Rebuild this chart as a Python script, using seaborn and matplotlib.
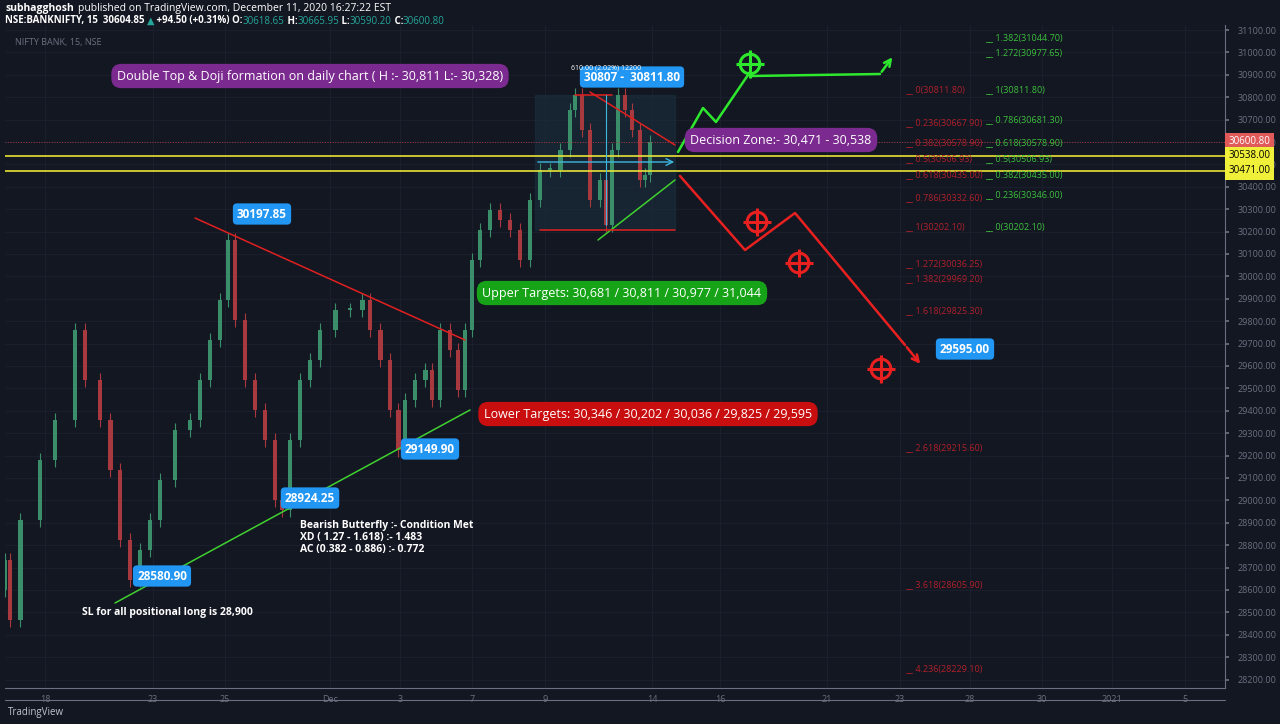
import matplotlib
matplotlib.use("Agg")
import matplotlib.pyplot as plt
import seaborn as sns
import pandas as pd
from matplotlib.transforms import blended_transform_factory

sns.set_theme(style="dark")
plt.rcParams['font.family'] = ['Open Sans', 'DejaVu Sans']

# ---- data ----
bar_day = [-1.11,-0.97,-0.69,-0.14,0.28,0.83,1.11,1.53,1.81,2.08,2.36,2.64,2.92,3.19,3.61,4.03,4.31,4.58,4.86,5.08,
           5.28,5.56,5.83,6.11,6.39,6.58,6.81,7.08,7.36,7.64,8.06,8.47,8.81,9.03,9.31,9.58,9.81,10.0,10.28,10.56,
           10.75,10.97,11.25,11.47,11.67,11.86,12.08,12.36,12.64,12.92,13.19,13.47,13.75,14.03,14.31,14.58,14.72,
           14.92,15.14,15.42,15.58,15.75,15.92,16.11,16.31,16.53,16.67,16.81]
close = [28734,28466,28912,29180,29359,29761,29537,29359,29136,28823,28645,28779,28912,29091,29314,29359,29537,29716,29895,30162,
         29805,29537,29404,29270,29002,28957,29270,29537,29627,29761,29850,29850,29895,29761,29627,29404,29225,29448,29537,29582,
         29448,29761,29671,29493,29761,30073,30207,30296,30252,30207,30073,30341,30475,30475,30564,30743,30810,
         30654,30341,30430,30229,30564,30810,30743,30654,30430,30453,30600]
open_ = [28600] + close[:-1]

tick_day = [0,3,5,7.92,9.86,11.86,13.89,16.86,18.75,21.72,23.75,25.69,27.69,29.64,31.67]
tick_lbl = ["18","23","25","Dec","3","7","9","14","16","21","23","28","30","2021","5"]

fib_red_lvl = [0,0.236,0.382,0.5,0.618,0.786,1,1.272,1.382,1.618,2.618,3.618,4.236]
fib_red_px = [30811.80,30667.90,30578.90,30506.93,30435.00,30332.60,30202.10,30036.25,29969.20,29825.30,29215.60,28605.90,28229.10]
fib_grn_lvl = [1.382,1.272,1,0.786,0.618,0.5,0.382,0.236,0]
fib_grn_px = [31044.70,30977.65,30811.80,30681.30,30578.90,30506.93,30435.00,30346.00,30202.10]

zone_lo, zone_hi, last_px = 30471.00, 30538.00, 30600.80
point_labels = [("30197.85",30197.85),("28924.25",28924.25),("29149.90",29149.90),("28580.90",28580.90),("29595.00",29595.00)]

BG = "#131722"
W, H = 1280, 724
X0, Y0, X1, Y1 = 5, 25, 1225, 688
def d(xp):  # pixel x -> day
    return (xp - 45) / 36.0
def p(yp):  # pixel y -> price
    return 30600 - (yp - 142) * 4.4643
def P(xp, yp):
    return d(xp), p(yp)

fig = plt.figure(figsize=(12.8, 7.24), dpi=100, facecolor=BG)
ax = fig.add_axes([X0/W, 1-Y1/H, (X1-X0)/W, (Y1-Y0)/H], facecolor=BG)
ax.set_xlim(d(X0), d(X1))
ax.set_ylim(p(Y1), p(Y0))

# grid
for yv in range(28200, 31200, 100):
    ax.axhline(yv, color="#1c2030", lw=0.6, zorder=0)
for t in tick_day:
    ax.axvline(t, color="#1c2030", lw=0.6, zorder=0)

# candles
df = pd.DataFrame({"day": bar_day, "open": open_, "close": close})
df["up"] = df.close >= df.open
for up, col in [(True, "#3a8f6a"), (False, "#a8393e")]:
    s = df[df.up == up]
    lo = s[["open", "close"]].min(axis=1)
    hi = s[["open", "close"]].max(axis=1)
    ax.vlines(s.day, lo - 30, hi + 30, color=col, lw=0.8, zorder=2)
    ax.bar(s.day, (s.close - s.open).abs().clip(lower=8), bottom=lo,
           width=0.13, color=col, edgecolor="none", linewidth=0, zorder=2)

# zone lines
ax.axhline(zone_hi, color="#e8e336", lw=1.2, zorder=3)
ax.axhline(zone_lo, color="#e8e336", lw=1.2, zorder=3)
ax.axhline(last_px, color="#a8393e", lw=0.7, ls=":", zorder=3)

# box and trend lines
ax.add_patch(plt.Rectangle(P(535, 230), d(675)-d(535), p(95)-p(230), color="#1a3340", alpha=0.5, zorder=1))
ax.plot(*zip(P(195, 218), P(465, 340)), color="#e02020", lw=1.1, zorder=4)
ax.plot(*zip(P(115, 603), P(470, 410)), color="#40d030", lw=1.1, zorder=4)
ax.plot(*zip(P(598, 240), P(675, 180)), color="#40d030", lw=1.1, zorder=4)
ax.plot(*zip(P(590, 92), P(675, 145)), color="#e02020", lw=1.1, zorder=4)
ax.plot(*zip(P(540, 230), P(675, 230)), color="#e02020", lw=1.1, zorder=4)
ax.plot(*zip(P(575, 95), P(612, 95)), color="#e02020", lw=1.1, zorder=4)
ax.annotate("", xy=P(677, 162), xytext=P(535, 162), arrowprops=dict(arrowstyle="->", color="#3fb8e0", lw=1))
ax.plot(*zip(P(606, 95), P(606, 225)), color="#3fb8e0", lw=0.8, zorder=4)

# projected paths
g = [P(678, 152), P(703, 108), P(716, 122), P(750, 72), P(750, 76), P(880, 74)]
ax.plot(*zip(*g), color="#2ee82e", lw=1.8, zorder=5)
ax.annotate("", xy=P(894, 55), xytext=g[-1], arrowprops=dict(arrowstyle="->", color="#2ee82e", lw=1.8))
r = [P(680, 176), P(745, 250), P(795, 213), P(905, 345)]
ax.plot(*zip(*r), color="#e82020", lw=1.8, zorder=5)
ax.annotate("", xy=P(922, 366), xytext=r[-1], arrowprops=dict(arrowstyle="->", color="#e82020", lw=1.8))

tg = pd.DataFrame([(*P(750, 64), "g"), (*P(757, 222), "r"), (*P(799, 263), "r"), (*P(881, 369), "r")],
                  columns=["x", "y", "c"])
for c, col in [("g", "#2ee82e"), ("r", "#e82020")]:
    s = tg[tg.c == c]
    sns.scatterplot(data=s, x="x", y="y", ax=ax, s=200, marker="o", facecolor="none", edgecolor=col, linewidth=2.2, zorder=6, legend=False)
    sns.scatterplot(data=s, x="x", y="y", ax=ax, s=420, marker="+", color=col, linewidth=2.2, zorder=6, legend=False)
ax.set_xlabel(""); ax.set_ylabel("")

# text boxes
def box(xp, yp, txt, fc, fs=9, ha="center", tc="white"):
    ax.text(*P(xp, yp), txt, color=tc, fontsize=fs, ha=ha, va="center", zorder=8,
            bbox=dict(boxstyle="round,pad=0.45,rounding_size=0.8", fc=fc, ec="none"))
box(310, 76, "Double Top & Doji formation on daily chart ( H :- 30,811 L:- 30,328)", "#7b2a8f")
box(781, 140, "Decision Zone:- 30,471 - 30,538", "#7b2a8f")
box(622, 293, "Upper Targets: 30,681 / 30,811 / 30,977 / 31,044", "#17a317")
box(648, 414, "Lower Targets: 30,346 / 30,202 / 30,036 / 29,825 / 29,595", "#c80e0e")

blue_pos = [(262, 214), (310, 498), (430, 449), (162, 576), (965, 349)]
for (lbl, _), (xp, yp) in zip(point_labels, blue_pos):
    ax.text(*P(xp, yp), lbl, color="white", fontsize=8.5, fontweight="bold", ha="center", va="center", zorder=8,
            bbox=dict(boxstyle="round,pad=0.35", fc="#2196f3", ec="none"))
ax.text(*P(632, 77), "30807 -  30811.80", color="white", fontsize=8.5, fontweight="bold", ha="center", va="center", zorder=8,
        bbox=dict(boxstyle="round,pad=0.35", fc="#2196f3", ec="none"))
ax.text(*P(606, 68), "610.00 (2.02%) 12200", color="white", fontsize=5, ha="center", va="center", zorder=8)

ax.text(*P(300, 520), "Bearish Butterfly :- Condition Met\nXD ( 1.27 - 1.618) :- 1.483\nAC (0.382 - 0.886) :- 0.772",
        color="white", fontsize=7.5, fontweight="bold", ha="left", va="top", linespacing=1.1, zorder=8)
ax.text(*P(82, 612), "SL for all positional long is 28,900", color="white", fontsize=7.5, fontweight="bold",
        ha="left", va="center", zorder=8)

# fib labels
for lv, px in zip(fib_red_lvl, fib_red_px):
    ax.text(d(905), px, f"__ {lv:g}({px:.2f})", color="#b0202a", fontsize=6.5, ha="left", va="bottom", zorder=7)
for lv, px in zip(fib_grn_lvl, fib_grn_px):
    ax.text(d(985), px, f"__ {lv:g}({px:.2f})", color="#3cc03c", fontsize=6.5, ha="left", va="bottom", zorder=7)

# axes styling
ax.yaxis.tick_right()
ax.set_yticks(range(28200, 31200, 100))
ax.set_yticklabels([f"{v:.2f}" for v in range(28200, 31200, 100)], fontsize=6.5, color="#6b7080")
ax.set_xticks(tick_day)
ax.set_xticklabels(tick_lbl, fontsize=6.5, color="#6b7080")
ax.tick_params(axis="both", length=3, color="#6b7080", pad=6)
ax.tick_params(axis="x", pad=2)
for sp in ax.spines.values():
    sp.set_color("#6b7080"); sp.set_linewidth(0.8)
ax.spines["top"].set_visible(False)
ax.spines["left"].set_visible(False)
fig.add_artist(plt.Line2D([X0/W, X1/W], [1-700/H, 1-700/H], color="#6b7080", lw=0.8))

trans = blended_transform_factory(ax.transAxes, ax.transData)
for v, fc, tc in [(last_px, "#e05a5a", "white"), (zone_hi, "#f0f03a", "black"), (zone_lo, "#f0f03a", "black")]:
    ax.text(1.003, v, f"{v:.2f}", transform=trans, fontsize=7, color=tc, ha="left", va="center", zorder=9,
            bbox=dict(boxstyle="square,pad=0.35", fc=fc, ec="none"))

# header
fig.text(5/W, 1-9/H, "subhagghosh", color="white", fontsize=7.5, fontweight="bold", va="center")
fig.text(78/W, 1-9/H, "published on TradingView.com, December 11, 2020 16:27:22 EST", color="white", fontsize=7.5, va="center")
parts = [("NSE:BANKNIFTY, 15  30604.85 ", "white", "bold"), ("▲", "#26a69a", "normal"),
         (" +94.50 (+0.31%) O:", "white", "bold"), ("30618.65", "#26a69a", "normal"),
         (" H:", "white", "bold"), ("30665.95", "#26a69a", "normal"),
         (" L:", "white", "bold"), ("30590.20", "#26a69a", "normal"),
         (" C:", "white", "bold"), ("30600.80", "#26a69a", "normal")]
prev = fig.text(5/W, 1-21/H, parts[0][0], color=parts[0][1], fontsize=7, fontweight=parts[0][2], va="center")
for txt, col, fw in parts[1:]:
    prev = plt.annotate(txt, xy=(1, 0.5), xycoords=prev, va="center", ha="left", color=col, fontsize=7,
                        fontweight=fw, annotation_clip=False)
ax.text(0.008, 0.98, "NIFTY BANK, 15, NSE", transform=ax.transAxes, color="#6b7080", fontsize=6.5, va="top")
fig.text(8/W, 1-713/H, "TradingView", color="#c0c4cc", fontsize=7, va="center")

fig.savefig("out.png", dpi=100, facecolor=BG)
